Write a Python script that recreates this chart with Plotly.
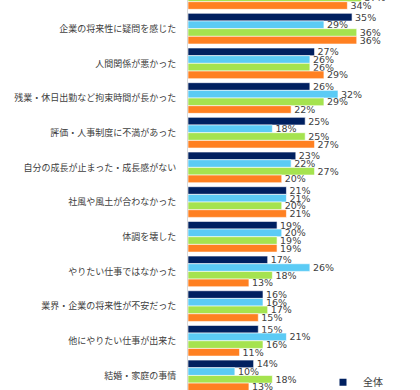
import plotly.graph_objects as go

categories = [
    "給与が低かった",
    "企業の将来性に疑問を感じた",
    "人間関係が悪かった",
    "残業・休日出勤など拘束時間が長かった",
    "評価・人事制度に不満があった",
    "自分の成長が止まった・成長感がない",
    "社風や風土が合わなかった",
    "体調を壊した",
    "やりたい仕事ではなかった",
    "業界・企業の将来性が不安だった",
    "他にやりたい仕事が出来た",
    "結婚・家庭の事情",
]

series_names = ["全体", "20代", "30代", "40代"]
zentai = [None, 35, 27, 26, 25, 23, 21, 19, 17, 16, 15, 14]
s20 = [None, 29, 26, 32, 18, 22, 21, 20, 26, 16, 21, 10]
s30 = [37, 36, 26, 29, 25, 27, 20, 19, 18, 17, 16, 18]
s40 = [34, 36, 29, 22, 27, 20, 21, 19, 13, 15, 11, 13]
colors = ["#002060", "#5BCBF5", "#A5E34F", "#FF8021"]

fig = go.Figure()
for name, vals, col in zip(series_names, [zentai, s20, s30, s40], colors):
    fig.add_trace(go.Bar(
        y=categories, x=vals, name=name, orientation="h",
        marker=dict(color=col, line=dict(color="white", width=0.6)),
        text=[f"{v}%" if v is not None else "" for v in vals],
        textposition="outside", constraintext="none",
        textfont=dict(size=9.5, color="#404040", family="DejaVu Sans"),
        showlegend=False, hoverinfo="skip",
    ))

# legend entry (only 全体 visible in the cropped view)
fig.add_trace(go.Scatter(
    x=[None], y=[None], mode="markers", name=series_names[0],
    marker=dict(symbol="square", size=7, color=colors[0]),
    showlegend=True,
))

fig.update_layout(
    width=420, height=390,
    margin=dict(l=188, r=7, t=0, b=0, autoexpand=False),
    barmode="group", bargap=0.115, bargroupgap=0,
    plot_bgcolor="white", paper_bgcolor="white",
    font=dict(family="Noto Sans CJK JP", color="#404040"),
    legend=dict(x=0.6, y=0.02, xanchor="left", yanchor="middle",
                font=dict(size=10, color="#404040"),
                bgcolor="rgba(0,0,0,0)", itemwidth=30),
    xaxis=dict(range=[0, 48], showticklabels=False, showgrid=False,
               zeroline=False, showline=False, automargin=False),
    yaxis=dict(type="category", range=[11.42, 0.173], showgrid=False,
               showline=True, linecolor="#d9d9d9", linewidth=1,
               ticks="", ticklabelstandoff=9, automargin=False,
               tickfont=dict(size=9, color="#404040", family="Noto Sans CJK JP")),
)

fig.write_html(
    "out.html",
    config={"displayModeBar": False},
    post_script="document.body.style.margin='0';document.body.style.overflow='hidden';",
)
